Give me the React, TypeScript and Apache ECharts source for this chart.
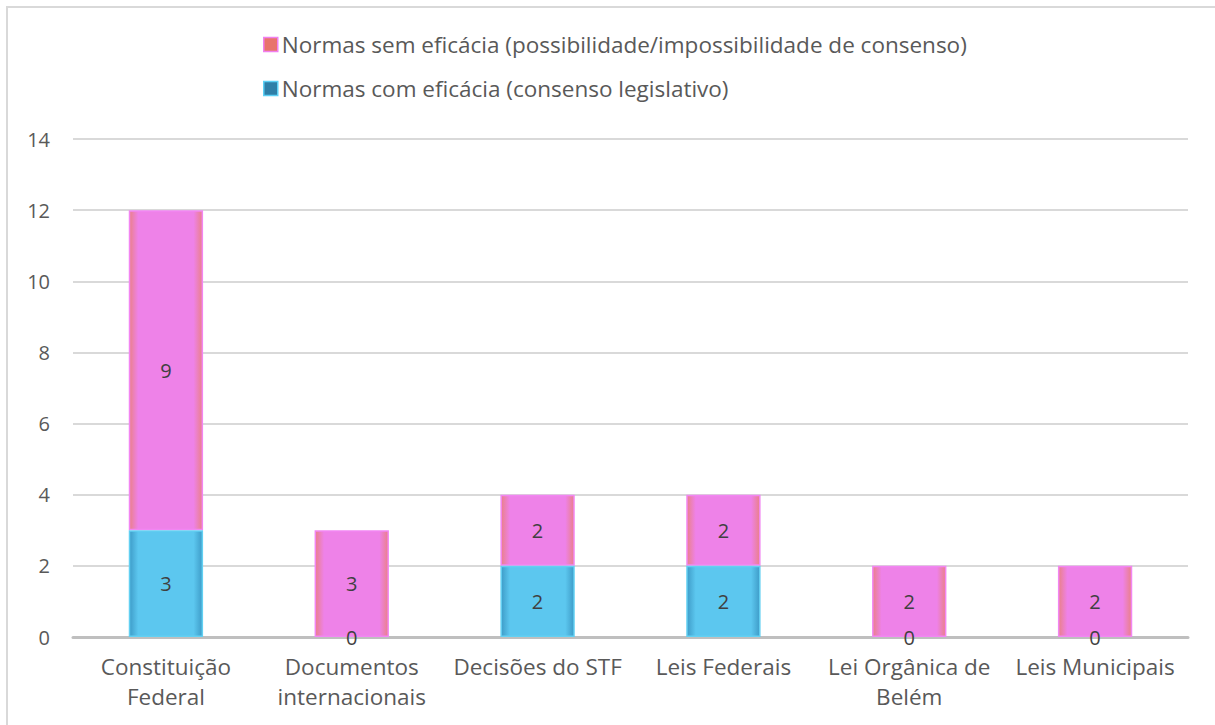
import React, { useEffect, useRef } from "react";
import * as echarts from "echarts";

const categories = [
  "Constituição\nFederal",
  "Documentos\ninternacionais",
  "Decisões do STF",
  "Leis Federais",
  "Lei Orgânica de\nBelém",
  "Leis Municipais",
];
const semEficacia = [9, 3, 2, 2, 2, 2];
const comEficacia = [3, 0, 2, 2, 0, 0];
const nameSem = "Normas sem eficácia (possibilidade/impossibilidade de consenso)";
const nameCom = "Normas com eficácia (consenso legislativo)";

const FONT = "'Open Sans', Roboto, sans-serif";

export default function App() {
  const ref = useRef<HTMLDivElement>(null);
  useEffect(() => {
    if (!ref.current) return;
    const chart = echarts.init(ref.current, undefined, { renderer: "svg" });
    const pinkFill = new echarts.graphic.LinearGradient(0, 0, 1, 0, [
      { offset: 0, color: "#EA8088" },
      { offset: 0.12, color: "#EE82E8" },
      { offset: 0.88, color: "#EE82E8" },
      { offset: 1, color: "#EA8088" },
    ]);
    const blueFill = new echarts.graphic.LinearGradient(0, 0, 1, 0, [
      { offset: 0, color: "#3E9CC8" },
      { offset: 0.12, color: "#5CC7EF" },
      { offset: 0.88, color: "#5CC7EF" },
      { offset: 1, color: "#3E9CC8" },
    ]);
    const label = {
      show: true,
      position: "inside",
      color: "#404040",
      fontSize: 20,
      fontFamily: FONT,
    };
    const toItems = (arr: number[]) =>
      arr.map((v) => (v === 0 ? { value: v, itemStyle: { borderWidth: 0 } } : v));
    chart.setOption({
      animation: false,
      backgroundColor: "#ffffff",
      textStyle: { fontFamily: FONT },
      graphic: [
        {
          type: "rect",
          shape: { x: 7, y: 7, width: 1230, height: 740 },
          style: { fill: "none", stroke: "#d9d9d9", lineWidth: 2 },
          silent: true,
        },
      ],
      legend: {
        orient: "vertical",
        left: 258,
        top: 28,
        itemWidth: 14,
        itemHeight: 14,
        itemGap: 21,
        icon: "rect",
        textStyle: { color: "#595959", fontSize: 22.5, fontFamily: FONT, padding: [0, 0, 0, -1] },
        data: [
          { name: nameSem, itemStyle: { color: "#E8746C", borderColor: "#F080F0", borderWidth: 1.5 } },
          { name: nameCom, itemStyle: { color: "#2E7FA8", borderColor: "#5CD0F5", borderWidth: 1.5 } },
        ],
      },
      grid: { left: 73, right: 27, top: 139, bottom: 88, containLabel: false },
      xAxis: {
        type: "category",
        data: categories,
        axisLine: { show: true, lineStyle: { color: "#bfbfbf", width: 3 } },
        axisTick: { show: false },
        axisLabel: {
          color: "#595959",
          fontSize: 22.5,
          fontFamily: FONT,
          lineHeight: 30,
          margin: 14,
          interval: 0,
        },
      },
      yAxis: {
        type: "value",
        min: 0,
        max: 14,
        interval: 2,
        axisLine: { show: false },
        axisTick: { show: false },
        splitLine: { lineStyle: { color: "#d9d9d9", width: 2 } },
        axisLabel: { color: "#595959", fontSize: 20, fontFamily: FONT, margin: 23 },
      },
      series: [
        {
          name: nameCom,
          type: "bar",
          stack: "total",
          data: toItems(comEficacia),
          barWidth: "40%",
          itemStyle: { color: blueFill, borderColor: "#62D0F2", borderWidth: 1.5 },
          label,
          z: 3,
        },
        {
          name: nameSem,
          type: "bar",
          stack: "total",
          data: toItems(semEficacia),
          barWidth: "40%",
          itemStyle: { color: pinkFill, borderColor: "#F286F2", borderWidth: 1.5 },
          label,
          z: 2,
        },
      ],
    });
    return () => chart.dispose();
  }, []);
  return (
    <div
      ref={ref}
      style={{ position: "fixed", left: 0, top: 0, width: 1215, height: 725 }}
    />
  );
}
